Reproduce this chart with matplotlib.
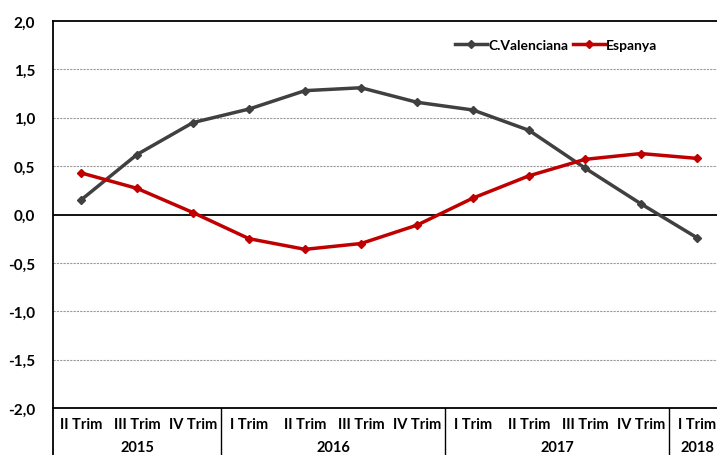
import matplotlib
matplotlib.use("Agg")
import matplotlib.pyplot as plt
import matplotlib.transforms as mtransforms

plt.rcParams["font.family"] = ["Lato", "DejaVu Sans"]
plt.rcParams["font.weight"] = "bold"

quarters = ["II Trim", "III Trim", "IV Trim",
            "I Trim", "II Trim", "III Trim", "IV Trim",
            "I Trim", "II Trim", "III Trim", "IV Trim",
            "I Trim"]
years = ["2015", "2016", "2017", "2018"]
year_sizes = [3, 4, 4, 1]
cvalenciana = [0.15, 0.62, 0.95, 1.09, 1.28, 1.31, 1.16, 1.08, 0.87, 0.48, 0.11, -0.24]
espanya = [0.43, 0.27, 0.02, -0.25, -0.36, -0.30, -0.11, 0.17, 0.40, 0.57, 0.63, 0.58]
yticks = [-2.0, -1.5, -1.0, -0.5, 0.0, 0.5, 1.0, 1.5, 2.0]

W, H = 717, 456
fig = plt.figure(figsize=(W / 100, H / 100), dpi=100)
# plot area runs past the right edge, as in the cropped original
left, right, top, bottom = 53, 725, 22, 409
ax = fig.add_axes([left / W, 1 - bottom / H, (right - left) / W, (bottom - top) / H])

x = list(range(len(quarters)))
ax.plot(x, cvalenciana, color="#404040", lw=2.5, marker="D", ms=4.5,
        label="C.Valenciana", zorder=3)
ax.plot(x, espanya, color="#C00000", lw=2.5, marker="D", ms=4.5,
        label="Espanya", zorder=3)

ax.set_xlim(-0.5, len(quarters) - 0.5)
ax.set_ylim(-2.0, 2.0)
ax.set_yticks(yticks)
ax.set_yticklabels([f"{v:.1f}".replace(".", ",") for v in yticks],
                   fontsize=11, fontweight="bold")
ax.tick_params(axis="y", length=0, pad=13)
ax.set_xticks([])
for v in yticks[1:-1]:
    if v == 0:
        ax.axhline(v, color="black", lw=1.3, zorder=2)
    else:
        ax.axhline(v, color="#9a9a9a", lw=0.8, ls=(0, (2, 1)), zorder=1)

ax.spines["right"].set_visible(False)
for s in ["left", "top", "bottom"]:
    ax.spines[s].set_linewidth(1.3)

# category axis labels below the plot
trans = mtransforms.blended_transform_factory(ax.transData, ax.transAxes)
ax_h = (bottom - top)
for i, q in enumerate(quarters):
    ax.text(i, -16 / ax_h, q, transform=trans, ha="center", va="center",
            fontsize=10.5, fontweight="bold")
start = 0
for yr, n in zip(years, year_sizes):
    ax.text(start + (n - 1) / 2, -39 / ax_h, yr, transform=trans,
            ha="center", va="center", fontsize=10.5, fontweight="bold")
    start += n
    sep = start - 0.5
    ax.plot([sep, sep], [0, -50 / ax_h], transform=trans, color="black",
            lw=1.0, clip_on=False)
ax.plot([-0.5, -0.5], [0, -50 / ax_h], transform=trans, color="black",
        lw=1.3, clip_on=False)

ax.legend(loc="upper left", bbox_to_anchor=(0.58, 0.985), ncol=2,
          frameon=False, handlelength=2.3, columnspacing=0.3,
          handletextpad=0.1, prop={"weight": "bold", "size": 10})

fig.savefig("out.png", dpi=100)
